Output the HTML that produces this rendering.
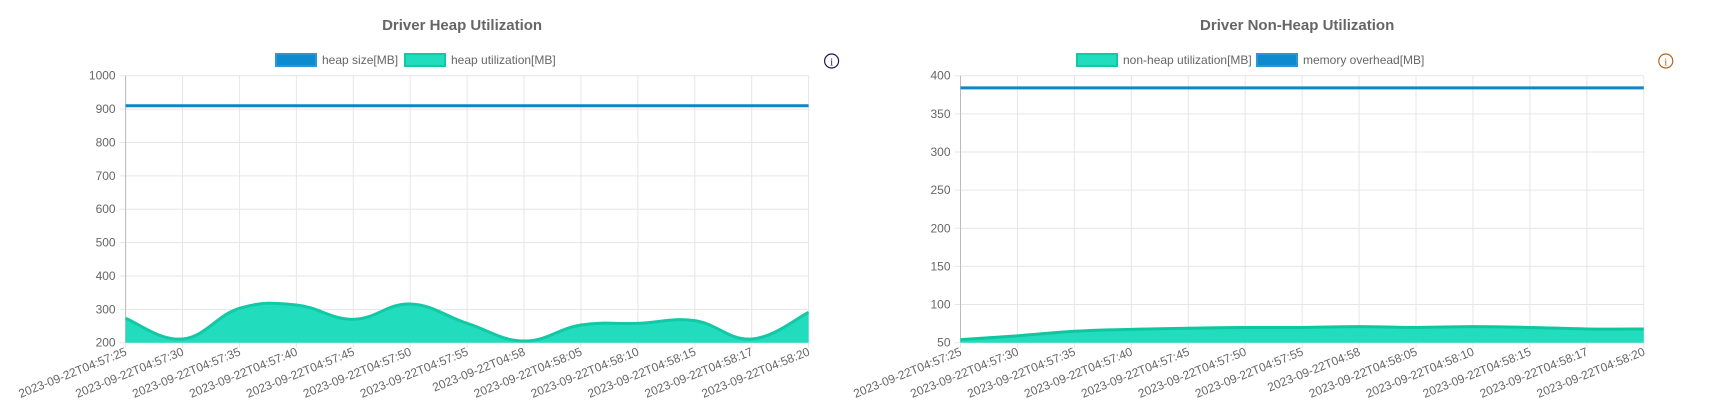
<!DOCTYPE html>
<html><head><meta charset="utf-8"><style>
body{margin:0;background:#fff;width:1715px;height:404px;overflow:hidden;font-family:"Liberation Sans",sans-serif}
svg{display:block}
</style></head><body>
<svg id="svg" width="1715" height="404" xmlns="http://www.w3.org/2000/svg"></svg>
<script>
const labels=["2023-09-22T04:57:25","2023-09-22T04:57:30","2023-09-22T04:57:35","2023-09-22T04:57:40","2023-09-22T04:57:45","2023-09-22T04:57:50","2023-09-22T04:57:55","2023-09-22T04:58","2023-09-22T04:58:05","2023-09-22T04:58:10","2023-09-22T04:58:15","2023-09-22T04:58:17","2023-09-22T04:58:20"];
const heapSize=[910,910,910,910,910,910,910,910,910,910,910,910,910];
const heapUtil=[273,211,303,313,270,316,258,205,253,258,266,211,291];
const heapTicks=[200,300,400,500,600,700,800,900,1000];
const nonHeapUtil=[54,59,65,67.5,69,70,70,71,70,71,70,68,68];
const memOverhead=[384,384,384,384,384,384,384,384,384,384,384,384,384];
const nonHeapTicks=[50,100,150,200,250,300,350,400];

const NS="http://www.w3.org/2000/svg";
const svg=document.getElementById('svg');
function mk(tag,attrs,parent){const e=document.createElementNS(NS,tag);for(const k in attrs)e.setAttribute(k,attrs[k]);(parent||svg).appendChild(e);return e;}
function smooth(pts){let d="M"+pts[0][0]+","+pts[0][1];const t=0.4/2*2/3*1.5;
 for(let i=0;i<pts.length-1;i++){const p0=pts[Math.max(i-1,0)],p1=pts[i],p2=pts[i+1],p3=pts[Math.min(i+2,pts.length-1)];
  const c1=[p1[0]+(p2[0]-p0[0])*t/1.5*0.5*1.5/1.5*1,p1[1]+(p2[1]-p0[1])*0.2];
  const c2=[p2[0]-(p3[0]-p1[0])*0.2,p2[1]-(p3[1]-p1[1])*0.2];
  c1[0]=p1[0]+(p2[0]-p0[0])*0.2;
  d+=` C${c1[0]},${c1[1]} ${c2[0]},${c2[1]} ${p2[0]},${p2[1]}`;}
 return d;}

function chart(cfg){
 const g=mk('g',{});
 
 
 const {x0,x1,y0,y1,min,max}=cfg;
 const xs=i=>x0+(x1-x0)*i/(labels.length-1);
 const ys=v=>y1-(v-min)/(max-min)*(y1-y0);
 const t=mk('text',{x:(x0+x1)/2-5,y:30,'text-anchor':'middle','font-size':15,'font-weight':'bold',fill:'#666'},g);
 t.textContent=cfg.title;
 
 
 // grid
 cfg.ticks.forEach(v=>{
  const l=mk('line',{x1:x0-6,x2:x1,y1:ys(v),y2:ys(v),stroke:'#e6e6e6','stroke-width':1},g);
  
  
  const tx=mk('text',{x:x0-10,y:ys(v)+4,'text-anchor':'end','font-size':12,fill:'#666'},g);
  tx.textContent=v;
  
  
 });
 labels.forEach((lb,i)=>{
  const l=mk('line',{x1:xs(i),x2:xs(i),y1:y0,y2:y1+5,stroke:'#e6e6e6','stroke-width':1},g);
  
  
  const tx=mk('text',{x:0,y:0,'text-anchor':'end','font-size':12,fill:'#666',transform:`translate(${xs(i)+2},${y1+12}) rotate(-22)`},g);
  tx.textContent=lb;
  
  
 });
 mk('line',{x1:x0,x2:x0,y1:y0,y2:y1,stroke:'#bbb','stroke-width':1},g);
 // series
 cfg.series.forEach(s=>{
  const pts=s.data.map((v,i)=>[xs(i),ys(v)]);
  const d=smooth(pts);
  if(s.fill){const a=mk('path',{d:d+` L${x1},${y1} L${x0},${y1} Z`,fill:'#22dcbe',stroke:'none'},g);
   
   }
  const p=mk('path',{d:d,fill:'none',stroke:s.color,'stroke-width':3},g);
  
  
 });
 // legend
 cfg.legend.forEach(L=>{
  const r=mk('rect',{x:L.x,y:54,width:40,height:12,fill:L.fill,stroke:L.stroke,'stroke-width':2},g);
  
  
  const tx=mk('text',{x:L.x+46,y:64,'font-size':12,fill:'#666'},g);
  tx.textContent=L.text;
  
  
 });
 const ic=mk('g',{},g);
 
 
 mk('circle',{cx:cfg.ix,cy:61,r:7,fill:'#fff',stroke:cfg.icolor,'stroke-width':1.2},ic);
 const it=mk('text',{x:cfg.ix,y:65.5,'text-anchor':'middle','font-size':11,fill:cfg.icolor,'font-family':'Liberation Serif'},ic);
 it.textContent='i';
}
chart({name:'driver-heap-chart',title:'Driver Heap Utilization',x0:125.6,x1:808.6,y0:75.7,y1:342.7,min:200,max:1000,ticks:heapTicks,
 series:[{id:'heap-utilization',data:heapUtil,color:'#13c9a5',fill:true},{id:'heap-size',data:heapSize,color:'#0d87c9'}],
 legend:[{x:276,fill:'#0d8bcf',stroke:'#2f96d6',text:'heap size[MB]'},{x:405,fill:'#22dcbe',stroke:'#13c9a5',text:'heap utilization[MB]'}],ix:831.6,icolor:'#1a1a5a'});
chart({name:'driver-non-heap-chart',title:'Driver Non-Heap Utilization',x0:960.5,x1:1643.8,y0:75.7,y1:342.7,min:50,max:400,ticks:nonHeapTicks,
 series:[{id:'non-heap-utilization',data:nonHeapUtil,color:'#0fc79f',fill:true},{id:'memory-overhead',data:memOverhead,color:'#0d87c9'}],
 legend:[{x:1077,fill:'#22dcbe',stroke:'#13c9a5',text:'non-heap utilization[MB]'},{x:1257,fill:'#0d8bcf',stroke:'#2f96d6',text:'memory overhead[MB]'}],ix:1665.8,icolor:'#b5651d'});
</script>
</body></html>
